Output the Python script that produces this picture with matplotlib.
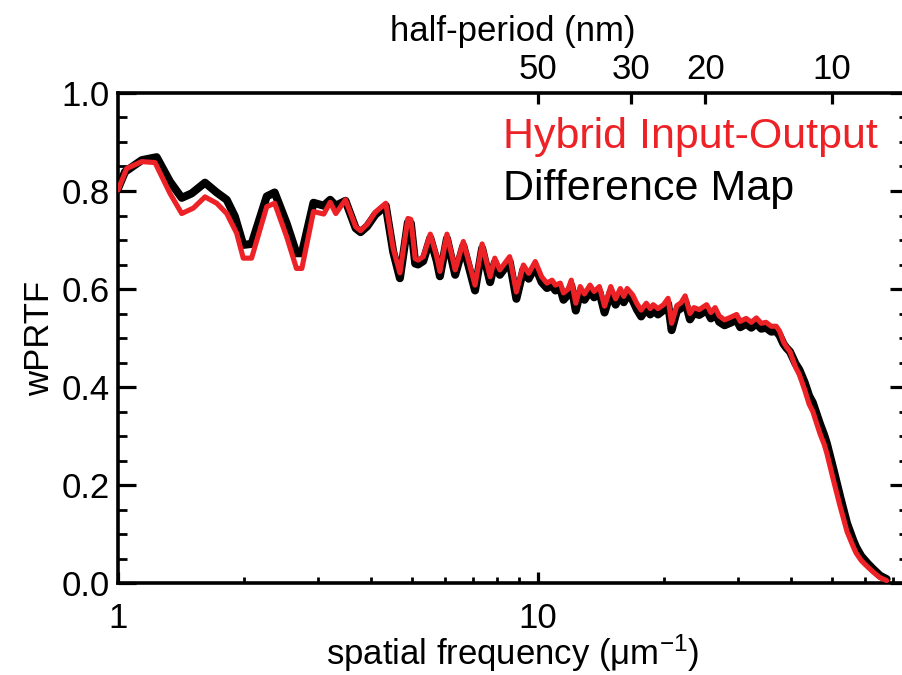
import matplotlib
matplotlib.use("Agg")
import matplotlib.pyplot as plt
from matplotlib.ticker import FixedLocator, NullFormatter, NullLocator

plt.rcParams['font.family'] = ['Liberation Sans', 'DejaVu Sans']
plt.rcParams['mathtext.fontset'] = 'custom'
plt.rcParams['mathtext.rm'] = 'Liberation Sans'
plt.rcParams['mathtext.it'] = 'Liberation Sans'

# Hybrid Input-Output reconstruction
freq_hio = [1.00, 1.049, 1.139, 1.225, 1.33, 1.418, 1.511, 1.611, 1.718, 1.815,
            1.916, 1.987, 2.08, 2.26, 2.36, 2.52, 2.66, 2.74,
            2.92, 3.09, 3.20, 3.30, 3.48, 3.68, 3.78, 3.92, 4.10, 4.34, 4.52, 4.69,
            4.90, 4.98, 5.10, 5.18, 5.33, 5.54, 5.74, 5.84, 6.07, 6.35, 6.64, 7.08,
            7.36, 7.69, 7.89, 8.11, 8.56, 8.88, 9.23, 9.50, 9.85, 10.2, 10.5, 10.8,
            11.0, 11.3, 11.5, 11.8, 12.0, 12.3, 12.6, 12.9, 13.3, 13.6, 14.0, 14.4,
            14.9, 15.3, 15.7, 16.0, 16.3, 16.8, 17.2, 17.6, 18.1, 18.5, 18.8, 19.3,
            19.9, 20.4, 20.8, 21.4, 21.9, 22.4, 23.0, 23.5, 24.2, 25.2, 25.8, 26.4,
            27.0, 27.8, 28.7, 29.7, 30.3, 31.3, 32.2, 33.1, 34.0, 34.9, 35.9, 36.9,
            37.6, 38.4, 39.0, 39.8, 41.0, 41.9, 43.1, 44.2, 45.1, 46.9, 48.0, 48.7,
            50.5, 52.4, 53.5, 54.4, 56.3, 57.2, 58.8, 60.9, 62.5, 64.1, 65.2, 67.6]
wprtf_hio = [0.802, 0.846, 0.860, 0.858, 0.795, 0.754, 0.765, 0.788, 0.775, 0.754,
             0.714, 0.663, 0.663, 0.768, 0.775, 0.707, 0.642, 0.642,
             0.758, 0.753, 0.777, 0.754, 0.782, 0.727, 0.719, 0.732, 0.757, 0.775, 0.683, 0.633,
             0.744, 0.742, 0.662, 0.659, 0.666, 0.712, 0.666, 0.636, 0.712, 0.639, 0.697, 0.608,
             0.692, 0.625, 0.663, 0.639, 0.666, 0.594, 0.649, 0.632, 0.656, 0.625, 0.612, 0.618,
             0.608, 0.612, 0.592, 0.600, 0.618, 0.571, 0.605, 0.590, 0.608, 0.595, 0.605, 0.565,
             0.605, 0.580, 0.601, 0.585, 0.601, 0.588, 0.570, 0.557, 0.571, 0.560, 0.568, 0.560,
             0.568, 0.581, 0.530, 0.566, 0.572, 0.586, 0.550, 0.562, 0.558, 0.568, 0.552, 0.562,
             0.545, 0.537, 0.542, 0.548, 0.534, 0.540, 0.532, 0.541, 0.530, 0.532, 0.524, 0.524,
             0.514, 0.492, 0.482, 0.472, 0.441, 0.425, 0.395, 0.365, 0.350, 0.305, 0.283, 0.265,
             0.210, 0.156, 0.128, 0.105, 0.074, 0.061, 0.046, 0.033, 0.024, 0.016, 0.011, 0.005]

# Difference Map reconstruction
freq_dm = [1.00, 1.039, 1.139, 1.236, 1.33, 1.418, 1.497, 1.611, 1.718, 1.815,
           1.898, 1.987, 2.08, 2.26, 2.36, 2.52, 2.66, 2.74,
           2.92, 3.09, 3.20, 3.30, 3.48, 3.68, 3.78, 3.92, 4.10, 4.34, 4.52, 4.69,
           4.90, 4.98, 5.10, 5.18, 5.33, 5.54, 5.74, 5.84, 6.07, 6.35, 6.64, 7.08,
           7.36, 7.69, 7.89, 8.11, 8.56, 8.88, 9.23, 9.50, 9.85, 10.2, 10.5, 10.8,
           11.0, 11.3, 11.5, 11.8, 12.0, 12.3, 12.6, 12.9, 13.3, 13.6, 14.0, 14.4,
           14.9, 15.3, 15.7, 16.0, 16.3, 16.8, 17.2, 17.6, 18.1, 18.5, 18.8, 19.3,
           19.9, 20.4, 20.8, 21.4, 21.9, 22.4, 23.0, 23.5, 24.2, 25.2, 25.8, 26.4,
           27.0, 27.8, 28.7, 29.7, 30.3, 31.3, 32.2, 33.1, 34.0, 34.9, 35.9, 36.9,
           37.6, 38.4, 39.0, 39.8, 41.0, 41.9, 43.1, 44.2, 45.1, 46.9, 48.0, 48.7,
           50.5, 52.4, 53.5, 54.4, 56.3, 57.2, 58.8, 60.9, 62.5, 64.1, 65.2, 67.6]
wprtf_dm = [0.805, 0.839, 0.863, 0.869, 0.819, 0.786, 0.795, 0.817, 0.797, 0.782,
            0.748, 0.690, 0.692, 0.789, 0.797, 0.734, 0.673, 0.673,
            0.776, 0.770, 0.782, 0.770, 0.780, 0.724, 0.716, 0.728, 0.752, 0.770, 0.676, 0.622,
            0.736, 0.734, 0.652, 0.650, 0.657, 0.704, 0.657, 0.626, 0.703, 0.629, 0.688, 0.597,
            0.683, 0.614, 0.654, 0.629, 0.656, 0.580, 0.640, 0.621, 0.646, 0.614, 0.602, 0.607,
            0.597, 0.601, 0.578, 0.589, 0.607, 0.556, 0.594, 0.578, 0.597, 0.583, 0.594, 0.552,
            0.594, 0.568, 0.590, 0.573, 0.590, 0.577, 0.558, 0.544, 0.560, 0.548, 0.557, 0.548,
            0.557, 0.570, 0.516, 0.555, 0.561, 0.575, 0.538, 0.551, 0.547, 0.557, 0.540, 0.551,
            0.533, 0.526, 0.531, 0.537, 0.522, 0.529, 0.521, 0.530, 0.519, 0.521, 0.513, 0.514,
            0.505, 0.488, 0.480, 0.472, 0.448, 0.435, 0.410, 0.382, 0.368, 0.325, 0.302, 0.285,
            0.232, 0.176, 0.146, 0.122, 0.087, 0.073, 0.055, 0.040, 0.030, 0.021, 0.015, 0.008]

freq_major = [1, 10]
freq_minor = [2, 3, 4, 5, 6, 7, 8, 9, 20, 30, 40, 50, 60, 70]
halfperiod_nm = [50, 30, 20, 10]
yticks = [0.0, 0.2, 0.4, 0.6, 0.8, 1.0]

RED = '#ed2227'
FS = 25

fig = plt.figure(figsize=(9.02, 6.75), dpi=100)
ax = fig.add_axes([118 / 902, 1 - 583 / 675, (908 - 118) / 902, (583 - 93) / 675])

ax.plot(freq_dm, wprtf_dm, color='black', lw=5.8, solid_joinstyle='round',
        solid_capstyle='round', zorder=2)
ax.plot(freq_hio, wprtf_hio, color=RED, lw=3.7, solid_joinstyle='round',
        solid_capstyle='round', zorder=3)

ax.set_xscale('log')
ax.set_xlim(1, 76)
ax.set_ylim(0, 1.0)

ax.xaxis.set_major_locator(FixedLocator(freq_major))
ax.set_xticklabels([str(v) for v in freq_major])
ax.xaxis.set_minor_locator(FixedLocator(freq_minor))
ax.xaxis.set_minor_formatter(NullFormatter())
ax.set_yticks(yticks)
ax.set_yticklabels([f'{v:.1f}' for v in yticks])
ax.yaxis.set_minor_locator(FixedLocator([i * 0.05 for i in range(21)]))

for s in ax.spines.values():
    s.set_linewidth(2.6)

ax.tick_params(axis='y', which='major', direction='in', length=13, width=2.3,
               left=True, right=True, labelsize=FS, pad=6)
ax.tick_params(axis='y', which='minor', direction='in', length=6.5, width=2.0,
               left=True, right=True)
ax.tick_params(axis='x', which='major', direction='in', length=8, width=2.3,
               top=False, bottom=True, labelsize=FS, pad=14)
ax.tick_params(axis='x', which='minor', direction='in', length=4, width=2.0,
               top=False, bottom=True)

ax.set_xlabel('spatial frequency (μm$^{-1}$)', fontsize=FS, labelpad=-2)
ax.set_ylabel('wPRTF', fontsize=FS, labelpad=4)

# half-period scale along the top edge
ax2 = ax.twiny()
ax2.set_xscale('log')
ax2.set_xlim(ax.get_xlim())
ax2.xaxis.set_major_locator(FixedLocator([500.0 / h for h in halfperiod_nm]))
ax2.set_xticklabels([str(h) for h in halfperiod_nm])
ax2.xaxis.set_minor_locator(NullLocator())
ax2.tick_params(axis='x', which='major', direction='in', length=8, width=2.3,
                labelsize=FS, pad=5)
ax2.set_xlabel('half-period (nm)', fontsize=FS, labelpad=9)
for s in ax2.spines.values():
    s.set_visible(False)

fig.text(503 / 902, 1 - 148 / 675, 'Hybrid Input-Output', color=RED,
         fontsize=31, ha='left', va='baseline')
fig.text(503 / 902, 1 - 200 / 675, 'Difference Map', color='black',
         fontsize=31, ha='left', va='baseline')

fig.savefig('out.png', dpi=100)
